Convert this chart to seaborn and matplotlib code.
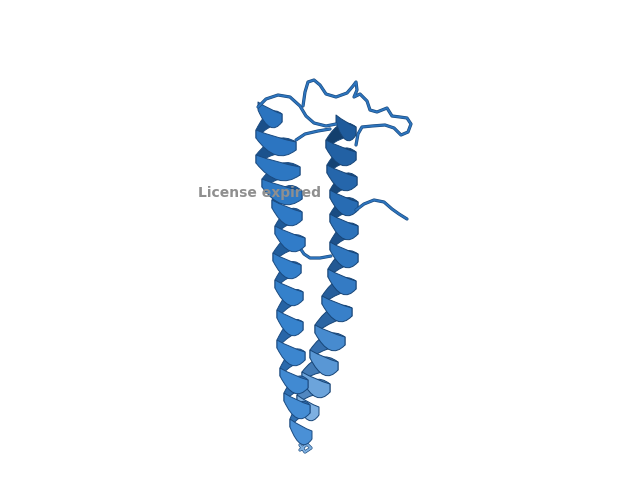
import numpy as np
import pandas as pd
import seaborn as sns
import matplotlib
matplotlib.use("Agg")
import matplotlib.pyplot as plt
from matplotlib.path import Path
from matplotlib.patches import PathPatch
import matplotlib.patheffects as pe

# ---- data (pixel coordinates, y downward) ----
left_turn_y = [112, 140, 165, 189, 210, 236, 263, 290, 320, 350, 378, 403, 429]
left_turn_x = [270, 276, 278, 282, 287, 290, 287, 289, 290, 291, 294, 297, 301]
left_turn_r = [12, 20, 22, 20, 15, 15, 14, 14, 13, 14, 14, 13, 11]

right_turn_y = [125, 150, 175, 200, 224, 252, 279, 306, 335, 360, 382, 405]
right_turn_x = [346, 341, 342, 344, 344, 344, 342, 337, 330, 324, 316, 308]
right_turn_r = [10, 15, 15, 14, 14, 14, 14, 15, 15, 14, 14, 11]

loop_top_x = [258, 266, 278, 290, 300, 306, 314, 326, 336]
loop_top_y = [107, 99, 95, 97, 106, 116, 123, 126, 124]

loop_long_x = [303, 305, 308, 314, 320, 326, 336, 347, 353, 356, 357, 354, 360, 367, 370,
               377, 387, 392, 400, 407, 411, 408, 401, 394, 385, 372, 362, 358, 356]
loop_long_y = [106, 92, 82, 80, 85, 94, 97, 93, 86, 82, 90, 97, 94, 101, 110,
               112, 108, 116, 117, 118, 124, 132, 135, 128, 125, 126, 127, 134, 145]

loop_mid_x = [296, 305, 318, 330]
loop_mid_y = [140, 134, 131, 129]

tail_x = [356, 364, 374, 384, 392, 399, 407]
tail_y = [210, 204, 200, 202, 209, 214, 219]

loop_low_x = [300, 304, 310, 320, 331]
loop_low_y = [248, 254, 258, 258, 256]

tip_x = [300, 305, 311, 307, 300]
tip_y = [445, 452, 448, 444, 450]

label_text = "License expired"

# ---- drawing ----
sns.set_theme(style="white")
fig = plt.figure(figsize=(6.4, 4.8), dpi=100)
ax = fig.add_axes([0, 0, 1, 1])
ax.set_xlim(0, 640)
ax.set_ylim(480, 0)
ax.axis("off")


def ribbon(ax, a, b, w_end, w_mid, bulge, face, edge, z):
    """Ribbon piece from centre point a to centre point b (curved by bulge)."""
    (x0, y0), (x1, y1) = a, b
    mx, my = (x0 + x1) / 2, (y0 + y1) / 2
    cu = (mx, 2 * (my + bulge - w_mid / 2) - my)
    cl = (mx, 2 * (my + bulge + w_mid / 2) - my)
    verts = [(x0, y0 - w_end / 2), cu, (x1, y1 - w_end / 2),
             (x1, y1 + w_end / 2), cl, (x0, y0 + w_end / 2), (x0, y0 - w_end / 2)]
    codes = [Path.MOVETO, Path.CURVE3, Path.CURVE3, Path.LINETO,
             Path.CURVE3, Path.CURVE3, Path.CLOSEPOLY]
    ax.add_patch(PathPatch(Path(verts, codes), facecolor=face, edgecolor=edge,
                           lw=0.7, zorder=z, joinstyle="round"))


def helix(ax, xs, ys, rs, front_cols, back_cols, edge, zbase, rise=6):
    n = len(xs)
    for i in range(n):
        cx, cy, r = xs[i], ys[i], rs[i]
        if i + 1 < n:
            nx, ny, nr = xs[i + 1], ys[i + 1], rs[i + 1]
            ribbon(ax, (cx + r, cy + rise), (nx - nr, ny - rise), 8, 11, -6,
                   back_cols[i], edge, zbase)
        ribbon(ax, (cx - r, cy - rise), (cx + r, cy + rise), 8, 14, 6,
               front_cols[i], edge, zbase + 1 + i * 0.01)


right_front = sns.blend_palette(["#1f5b9c", "#2a70b8", "#3a82cb", "#7eb0e1"], len(right_turn_y))
right_back = sns.blend_palette(["#133f6d", "#1b4f88", "#2d67a6", "#5e93c9"], len(right_turn_y))
left_front = sns.blend_palette(["#2b74bf", "#2f7ac6", "#3783cd", "#4a90d6"], len(left_turn_y))
left_back = sns.blend_palette(["#1a4f89", "#1f5a98", "#2866a8", "#3474b6"], len(left_turn_y))

helix(ax, right_turn_x, right_turn_y, right_turn_r, right_front, right_back, "#174577", 2)
helix(ax, left_turn_x, left_turn_y, left_turn_r, left_front, left_back, "#1a4a80", 4)


def loop(xs, ys, color="#2d74bd", z=3, lw=1.4):
    df = pd.DataFrame({"x": xs, "y": ys})
    sns.lineplot(data=df, x="x", y="y", sort=False, estimator=None, ax=ax,
                 color=color, lw=lw, zorder=z,
                 path_effects=[pe.Stroke(linewidth=lw + 0.9, foreground="#1a4a7e"), pe.Normal()])


loop(loop_long_x, loop_long_y, z=1.5)
loop(loop_top_x, loop_top_y, z=6)
loop(loop_mid_x, loop_mid_y, z=3.5)
loop(tail_x, tail_y, z=3.5)
loop(loop_low_x, loop_low_y, z=3.5)
loop(tip_x, tip_y, color="#7fb0e0", z=1.5)

ax.set_xlim(0, 640)
ax.set_ylim(480, 0)
ax.set_xlabel("")
ax.set_ylabel("")

ax.text(198, 193, label_text, fontsize=10, fontweight="bold", color="#8f8f8f",
        ha="left", va="center", zorder=20, family="DejaVu Sans")

fig.savefig("out.png", dpi=100)
